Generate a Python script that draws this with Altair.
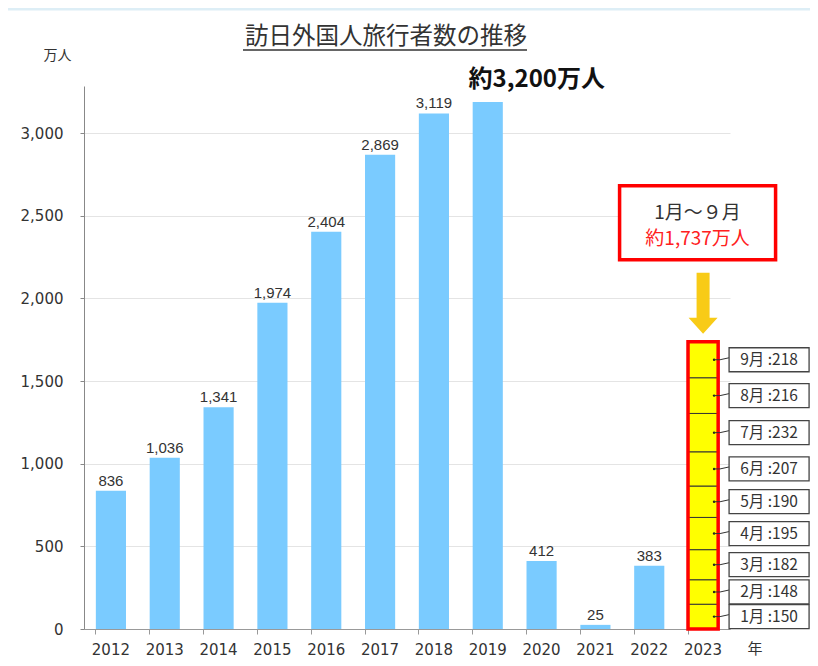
import altair as alt
import pandas as pd

# ---------------- data ----------------
years = ["2012", "2013", "2014", "2015", "2016", "2017", "2018", "2019", "2020", "2021", "2022"]
visitors = [836, 1036, 1341, 1974, 2404, 2869, 3119, 3188, 412, 25, 383]
year_2023 = "2023"
months = ["1月", "2月", "3月", "4月", "5月", "6月", "7月", "8月", "9月"]
monthly_2023 = [150, 148, 182, 195, 190, 207, 232, 216, 218]
axis_years = years + [year_2023]
y_ticks = [0, 500, 1000, 1500, 2000, 2500, 3000]
peak_year = "2019"
peak_text = "約3,200万人"
callout_period = "1月～９月"
callout_total = "約1,737万人"
title_text = "訪日外国人旅行者数の推移"
y_unit = "万人"
x_unit = "年"

# ---------------- tables ----------------
bars_df = pd.DataFrame({
    "year": years,
    "val": visitors,
    "label": [f"{v:,}" for v in visitors],
})

cum = 0
rows = []
for i, (m, v) in enumerate(zip(months, monthly_2023)):
    rows.append({"year": year_2023, "idx": i, "month": m, "val": v,
                 "mid": cum + v / 2, "label": f"{m} :{v}"})
    cum += v
stack_df = pd.DataFrame(rows)
total_df = pd.DataFrame({"year": [year_2023], "val": [sum(monthly_2023)]})
one = pd.DataFrame({"a": [0]})

# ---------------- scales / axes ----------------
xscale = alt.Scale(domain=axis_years, paddingInner=0.44, paddingOuter=0.22)
yscale = alt.Scale(domain=[0, 3285], nice=False, zero=True)

XAX = alt.Axis(title=None, labelAngle=0, bandPosition=0, tickSize=5,
               domainColor="#999", tickColor="#999", labelFont="DejaVu Sans",
               labelFontSize=15, labelColor="#333", labelPadding=8, grid=False)
YAX = alt.Axis(values=y_ticks, format=",d", title=y_unit, titleAngle=0,
               titleX=-27, titleY=-31, titleAlign="center", titleBaseline="middle",
               titleFont="Noto Sans CJK JP", titleFontSize=14, titleFontWeight="normal",
               titleColor="#333", labelFont="DejaVu Sans", labelFontSize=15,
               labelColor="#333", labelPadding=17, tickSize=4, tickColor="#888",
               domainColor="#888", gridColor="#e4e4e4", grid=True)


def X():
    return alt.X("year:N", scale=xscale, axis=XAX)


def Y(field="val", stack=None):
    return alt.Y(f"{field}:Q", scale=yscale, axis=YAX, stack=stack)


# custom symbol paths (unit coordinates, scaled by sqrt(size)/2)
box_path = "M-1,-0.3L1,-0.3L1,0.3L-1,0.3Z"            # size 6400 -> 80 x 24
leader_path = "M0.55,0L0.85,0L1.4,-0.12"              # size 1600
arrow_path = "M-0.65,-6.1L0.65,-6.1L0.65,-1.6L1.45,-1.6L0,0L-1.45,-1.6L-0.65,-1.6Z"  # size 400
callout_path = "M-1,-0.474L1,-0.474L1,0.474L-1,0.474Z"  # size 24336 -> 156 x 74

# ---------------- layers ----------------
top_line = alt.Chart(one).mark_rule(color="#DDEEF6", strokeWidth=3).encode(
    x=alt.value(-76), x2=alt.value(726), y=alt.value(-77))

bars = alt.Chart(bars_df).mark_bar(color="#7ACBFF").encode(x=X(), y=Y())

val_labels = alt.Chart(bars_df).transform_filter(
    f"datum.year != '{peak_year}'"
).mark_text(font="Liberation Sans", fontSize=15, color="#333", dy=-5,
            baseline="alphabetic").encode(x=X(), y=Y(), text="label:N")

peak = alt.Chart(bars_df).transform_filter(
    f"datum.year == '{peak_year}'"
).mark_text(font="Noto Sans CJK JP", fontSize=24, fontWeight="bold", color="#111",
            dx=49, dy=-22, baseline="middle").encode(x=X(), y=Y(), text=alt.value(peak_text))

segments = alt.Chart(stack_df).mark_bar(color="#FFFF00", stroke="#333", strokeWidth=1).encode(
    x=X(), y=Y(stack="zero"), order=alt.Order("idx:Q"))

outline = alt.Chart(total_df).mark_bar(fillOpacity=0, stroke="#FF0000", strokeWidth=3.5).encode(
    x=X(), y=Y())

dots = alt.Chart(stack_df).mark_point(shape="circle", size=6, filled=True, color="#222",
                                      opacity=1, xOffset=11).encode(x=X(), y=Y("mid"))

leaders = alt.Chart(stack_df).mark_point(shape=leader_path, size=1600, filled=False,
                                         color="#333", stroke="#333", strokeWidth=1,
                                         opacity=1).encode(x=X(), y=Y("mid"))

boxes = alt.Chart(stack_df).mark_point(shape=box_path, size=6400, filled=True, color="white",
                                       stroke="#444", strokeWidth=1.3, opacity=1,
                                       xOffset=66).encode(x=X(), y=Y("mid"))

box_text = alt.Chart(stack_df).mark_text(font="Noto Sans CJK JP", fontSize=15.5, color="#333",
                                         dx=66, baseline="middle").encode(
    x=X(), y=Y("mid"), text="label:N")

arrow = alt.Chart(total_df).mark_point(shape=arrow_path, size=400, filled=True, color="#F8CB17",
                                       opacity=1, strokeWidth=0, yOffset=-8).encode(x=X(), y=Y())

callout = alt.Chart(total_df).mark_point(shape=callout_path, size=24336, filled=True,
                                         color="white", stroke="#FF0000", strokeWidth=3.5,
                                         opacity=1, xOffset=-5.5, yOffset=-119).encode(x=X(), y=Y())

callout_t1 = alt.Chart(total_df).mark_text(font="Noto Sans CJK JP", fontSize=19, color="#333",
                                           dx=-5.5, dy=-129, baseline="middle").encode(
    x=X(), y=Y(), text=alt.value(callout_period))

callout_t2 = alt.Chart(total_df).mark_text(font="Noto Sans CJK JP", fontSize=19, color="#FF2020",
                                           dx=-5.5, dy=-103, baseline="middle").encode(
    x=X(), y=Y(), text=alt.value(callout_total))

title = alt.Chart(one).mark_text(font="Noto Sans CJK JP", fontSize=23.5, color="#333",
                                 baseline="middle").encode(
    x=alt.value(302), y=alt.value(-49), text=alt.value(title_text))

underline = alt.Chart(one).mark_rule(color="#333", strokeWidth=1.5).encode(
    x=alt.value(159), x2=alt.value(443), y=alt.value(-36))

year_unit = alt.Chart(one).mark_text(font="Noto Sans CJK JP", fontSize=15, color="#333",
                                     baseline="middle").encode(
    x=alt.value(671), y=alt.value(563), text=alt.value(x_unit))

chart = alt.layer(
    top_line, bars, val_labels, peak, segments, outline, dots, leaders, boxes, box_text,
    arrow, callout, callout_t1, callout_t2, title, underline, year_unit
).properties(
    width=646, height=543,
    autosize=alt.AutoSizeParams(type="none"),
    padding={"left": 76, "top": 78, "right": 80, "bottom": 28},
    background="white",
).configure_view(stroke=None)

chart.save("out.html", embed_options={"renderer": "svg", "actions": False})
